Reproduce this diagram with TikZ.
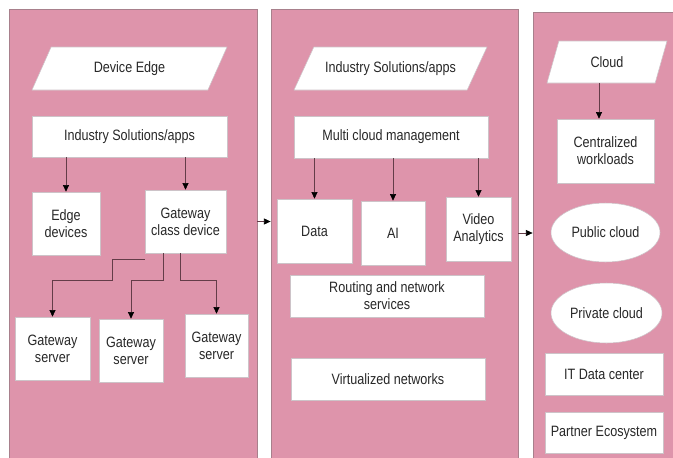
\documentclass[tikz,border=0pt]{standalone}
\usepackage{fontspec}
\setmainfont{Liberation Sans}[FakeStretch=0.84]
\usetikzlibrary{arrows.meta}
\usetikzlibrary{shapes.geometric}

\begin{document}
\begin{tikzpicture}[x=0.75pt,y=0.75pt,yscale=-1,xscale=1,
  panel/.style={draw={rgb, 255:red, 168; green, 128; blue, 140 }, line width=0.6pt, fill={rgb, 255:red, 222; green, 148; blue, 171 }, inner sep=0pt},
  box/.style={draw={rgb, 255:red, 205; green, 195; blue, 200 }, line width=0.4pt, fill=white, align=center, text={rgb, 255:red, 40; green, 40; blue, 40 }, font=\fontsize{11.25}{12.75}\selectfont, inner sep=1pt},
  io/.style={box, trapezium, trapezium stretches body},
  link/.style={draw={rgb, 255:red, 100; green, 60; blue, 72 }, line width=0.5pt, -{Triangle[length=5pt,width=4.5pt,color=black]}}
]
\useasboundingbox (0,0) rectangle (673,457);

%Shape: Rectangle (panels)
\draw (133,234.5) node [panel, minimum width=186pt, minimum height=338.25pt] (edgepanel) {};
\draw (394.5,234.5) node [panel, minimum width=185.25pt, minimum height=338.25pt] (midpanel) {};
\draw (604.5,236) node [panel, minimum width=107.25pt, minimum height=336pt] (cloudpanel) {};

% Device edge column
\draw (129.5,68.5) node [io, trapezium left angle=41, trapezium right angle=139, minimum width=146.25pt, minimum height=32.25pt] (devedge) {Device Edge};
\draw (129.5,136.5) node [box, minimum width=146.25pt, minimum height=30.75pt] (ind1) {Industry Solutions/apps};
\draw (66,223.5) node [box, minimum width=51pt, minimum height=47.25pt] (edgedev) {Edge\\devices};
\draw (185.5,221.5) node [box, minimum width=60.75pt, minimum height=47.25pt] (gwdev) {Gateway\\class device};
\draw (52.5,348.5) node [box, minimum width=56.25pt, minimum height=47.25pt] (gws1) {Gateway\\server};
\draw (131,350.5) node [box, minimum width=48pt, minimum height=47.25pt] (gws2) {Gateway\\server};
\draw (216.5,345.5) node [box, minimum width=47.25pt, minimum height=47.25pt] (gws3) {Gateway\\server};

% Middle column
\draw (390.5,68.5) node [io, trapezium left angle=40, trapezium right angle=140, inner xsep=-15pt, minimum width=144.75pt, minimum height=32.25pt] (indmid) {Industry Solutions/apps};
\draw (391,137) node [box, minimum width=145.5pt, minimum height=31.5pt] (mcm) {Multi cloud management};
\draw (314.5,231) node [box, minimum width=56.25pt, minimum height=48pt] (data) {Data};
\draw (393,233) node [box, minimum width=48pt, minimum height=48pt] (ai) {AI};
\draw (478.5,229) node [box, minimum width=48.75pt, minimum height=48pt] (video) {Video\\Analytics};
\draw (387,296) node [box, minimum width=145.5pt, minimum height=31.5pt] (routing) {Routing and network\\services};
\draw (388,379) node [box, minimum width=145.5pt, minimum height=31.5pt] (virt) {Virtualized networks};

% Cloud column
\draw (607,62) node [io, trapezium left angle=49, trapezium right angle=131, minimum width=90pt, minimum height=31.5pt] (cloud) {Cloud};
\draw (605.5,151) node [box, minimum width=72.75pt, minimum height=48pt] (central) {Centralized\\workloads};
\draw (605.5,232.5) node [box, ellipse, minimum width=81.75pt, minimum height=44.25pt] (public) {Public cloud};
\draw (606.5,313) node [box, ellipse, minimum width=83.25pt, minimum height=45pt] (private) {Private cloud};
\draw (604,374) node [box, minimum width=88.5pt, minimum height=31.5pt] (itdc) {IT Data center};
\draw (604,432.5) node [box, minimum width=88.5pt, minimum height=30.75pt] (partner) {Partner Ecosystem};

%Straight Lines
\draw [link] (ind1.south -| edgedev.north) -- (edgedev.north);
\draw [link] (ind1.south -| gwdev.north) -- (gwdev.north);
\coordinate (gwbus) at (112,280);
\draw [link] ([yshift=4.5pt]gwdev.south west) -| (gwbus) -| (gws1.north);
\draw [link] ([xshift=-17pt]gwdev.south) |- (gws2.north |- gwbus) -- (gws2.north);
\draw [link] ([xshift=-4pt]gwdev.south) |- (gws3.north |- gwbus) -- (gws3.north);

\draw [link] (mcm.south -| data.north) -- (data.north);
\draw [link] (mcm.south -| ai.north) -- (ai.north);
\draw [link] (mcm.south -| video.north) -- (video.north);

\draw [link] ([xshift=-6pt]cloud.south) -- ([xshift=-6pt]cloud.south |- central.north);

\draw [link] (edgepanel.east |- gwdev) -- (midpanel.west |- gwdev);
\draw [link] (midpanel.east |- ai) -- (cloudpanel.west |- ai);

\end{tikzpicture}
\end{document}
